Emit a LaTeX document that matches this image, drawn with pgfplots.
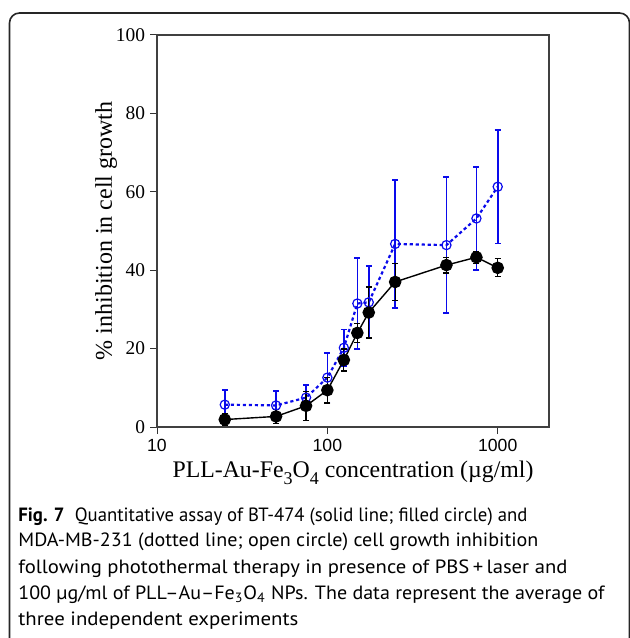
\documentclass[border=0pt]{standalone}
\usepackage{fontspec}
\setmainfont{Liberation Serif}
\newfontfamily\arialfont{Liberation Sans}
\newfontfamily\capfont{PT Sans}
\usepackage{pgfplots}
\pgfplotsset{compat=1.18}
\definecolor{myblue}{RGB}{10,10,235}

\pgfplotstableread{
x y e
25 1.9 1.5
50 2.7 1.8
75 5.4 3.7
100 9.4 3.3
125 17.1 2.8
150 24.0 2.4
175 29.2 6.5
250 37.0 4.8
500 41.3 2.0
750 43.3 1.5
1000 40.6 2.3
}\blackdata

\pgfplotstableread{
x y e
25 5.7 3.8
50 5.5 3.7
75 7.5 3.2
100 12.6 6.3
125 20.2 4.7
150 31.5 11.6
175 31.8 9.2
250 46.7 16.3
500 46.4 17.3
750 53.2 13.2
1000 61.3 14.5
}\bluedata

\newcommand{\capline}[2]{\resizebox{#1pt}{\height}{#2}}

\begin{document}
\begin{tikzpicture}
\begin{scope}[x=0.5pt,y=0.5pt]
\path[use as bounding box] (0,0) rectangle (630,638);
\draw[line width=0.8pt, black!85, rounded corners=5pt] (9.5,-30) -- (9.5,625) -- (629.5,625) -- (629.5,-30);
\begin{scope}[every node/.style={anchor=base west, inner sep=0pt, font=\capfont\fontsize{9.6}{11}\selectfont}]
\node at (18,117) {\capline{254.5}{\textbf{Fig. 7}\hspace{0.55em}Quantitative assay of BT-474 (solid line; filled circle) and}};
\node at (18,91) {\capline{260}{MDA-MB-231 (dotted line; open circle) cell growth inhibition}};
\node at (18,65) {\capline{274.5}{following photothermal therapy in presence of PBS\,+\,laser and}};
\node at (18,39) {\capline{293}{100 µg/ml of PLL–Au–Fe\textsubscript{3}O\textsubscript{4} NPs. The data represent the average of}};
\node at (18,13) {\capline{140}{three independent experiments}};
\end{scope}
\end{scope}
\begin{axis}[
  at={(78.5pt,105.5pt)}, anchor=south west,
  scale only axis, width=196pt, height=196pt,
  xmode=log, log basis x=10,
  xmin=10, xmax=2000, ymin=0, ymax=100,
  xtick={10,100,1000}, xticklabels={10,100,1000},
  ytick={0,20,40,60,80,100},
  tick align=outside, xtick pos=bottom, ytick pos=left,
  major tick length=3.5pt, minor tick length=2pt,
  axis line style={black!75, line width=0.6pt},
  every tick/.style={black!80, line width=0.5pt},
  /pgf/number format/assume math mode=true,
  yticklabel style={font=\fontsize{9.7}{10}\selectfont, xshift=1pt},
  xticklabel style={font=\fontsize{8.8}{9}\arialfont\selectfont, yshift=1pt},
  xlabel={PLL-Au-Fe\raisebox{-0.6ex}{\fontsize{9}{9}\selectfont 3}O\raisebox{-0.6ex}{\fontsize{9}{9}\selectfont 4} concentration (µg/ml)},
  ylabel={\% inhibition in cell growth},
  xlabel style={font=\fontsize{11.9}{13}\selectfont, yshift=2pt},
  ylabel style={font=\fontsize{12}{13}\selectfont},
  ylabel shift=-7.5pt,
  clip=false,
]
\addplot[myblue, line width=1.1pt, dash pattern=on 1.6pt off 1.4pt,
  mark=o, mark size=2.3pt, mark options={solid, line width=0.6pt},
  error bars/.cd, y dir=both, y explicit,
  error bar style={solid, line width=0.85pt, myblue},
  error mark options={rotate=90, mark size=1.5pt, line width=0.8pt, myblue}]
  table[x=x, y=y, y error=e] {\bluedata};
\addplot[black, line width=0.7pt, mark=*, mark size=2.8pt, mark options={solid},
  error bars/.cd, y dir=both, y explicit,
  error bar style={solid, line width=0.6pt, black},
  error mark options={rotate=90, mark size=1.5pt, line width=0.6pt, black}]
  table[x=x, y=y, y error=e] {\blackdata};
\end{axis}
\end{tikzpicture}
\end{document}
